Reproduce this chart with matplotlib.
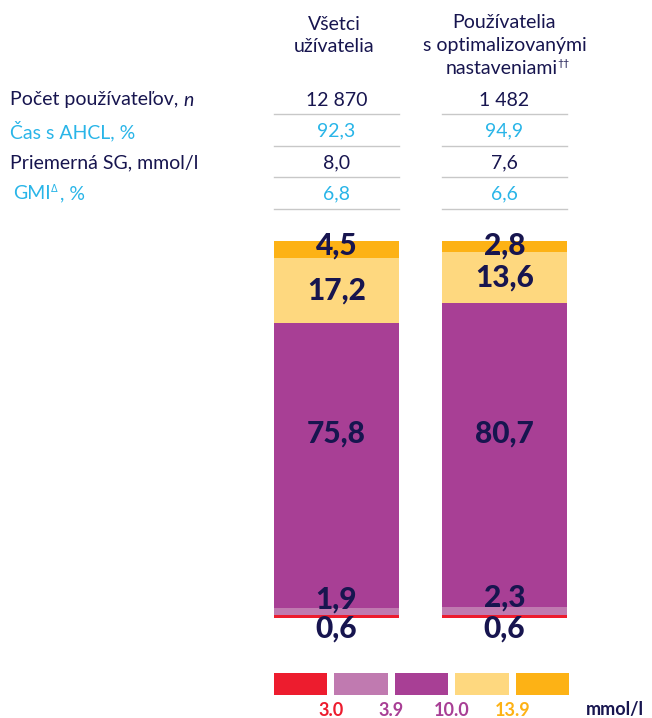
import numpy as np
import matplotlib.pyplot as plt

plt.rcParams['font.family'] = ['Lato', 'DejaVu Sans']

# data
group_all = ['Všetci', 'užívatelia']
group_opt = ['Používatelia', 's optimalizovanými', 'nastaveniami']
row_labels = ['Počet používateľov, ', 'Čas s AHCL, %', 'Priemerná SG, mmol/l', 'GMI']
row_values = [['12 870', '1 482'], ['92,3', '94,9'], ['8,0', '7,6'], ['6,8', '6,6']]
# segments bottom -> top: <3.0, 3.0-3.9, 3.9-10.0, 10.0-13.9, >13.9
seg_all = [0.6, 1.9, 75.8, 17.2, 4.5]
seg_opt = [0.6, 2.3, 80.7, 13.6, 2.8]
seg_labels = [['0,6', '1,9', '75,8', '17,2', '4,5'], ['0,6', '2,3', '80,7', '13,6', '2,8']]
legend_ticks = ['3.0', '3.9', '10.0', '13.9']

colors = ['#ed1c2e', '#c07ab0', '#a83f95', '#fed87f', '#fdb215']
navy = '#17154f'
cyan = '#29b5e8'
row_colors = [navy, cyan, navy, cyan]
tick_colors = ['#ed1c2e', '#a83f95', '#a83f95', '#fdb215']

W, H = 652, 718
fig = plt.figure(figsize=(W / 100, H / 100), dpi=100)
renderer = fig.canvas.get_renderer()

def fx(x):
    return x / W

def fy(y):
    return 1 - y / H

# bars axes: pixel 274..567 wide, 241..617.7 tall
ax = fig.add_axes([fx(274), fy(617.7), fx(567 - 274), (617.7 - 241) / H])
ax.set_xlim(-0.372, 1.372)
ax.set_ylim(0, 100)
ax.axis('off')

data = np.array([seg_all, seg_opt])
bottoms = np.zeros(2)
for i in range(5):
    ax.bar([0, 1], data[:, i], bottom=bottoms, width=0.744, color=colors[i], linewidth=0)
    bottoms += data[:, i]

for j in range(2):
    d = data[j]
    cum = np.cumsum(d)
    ys = [-2.8, cum[1] + 2.4, 49, cum[3] - d[3] / 2, 98.8]
    for i in range(5):
        ax.text(j, ys[i], seg_labels[j][i], ha='center', va='center', fontsize=21.5,
                fontweight='black', color=navy, clip_on=False)

# headers
cols_x = [336.5, 504.5]
fs = 14
for k, s in enumerate(group_all):
    fig.text(fx(334), fy(24 + 23 * k), s, ha='center', va='center', fontsize=fs, color=navy)
for k, s in enumerate(group_opt):
    x = 504.5 if k < 2 else 502
    t = fig.text(fx(x), fy(23 + 23 * k), s, ha='center', va='center', fontsize=fs, color=navy)
bb = t.get_window_extent(renderer)
fig.text(bb.x1 / W - 0.001, fy(63), '††', ha='left', va='center', fontsize=7.5, color=navy)

# table
row_y = [100, 131, 163, 194]
line_y = [114, 145.5, 177, 209]
for r in range(4):
    x0 = 13 if r == 3 else 10
    t = fig.text(fx(x0), fy(row_y[r]), row_labels[r], ha='left', va='center',
                 fontsize=fs, color=row_colors[r])
    for c in range(2):
        fig.text(fx(cols_x[c]), fy(row_y[r]), row_values[r][c], ha='center', va='center',
                 fontsize=fs, color=row_colors[r])
    bb = t.get_window_extent(renderer)
    if r == 0:
        fig.text(bb.x1 / W, fy(row_y[r]), 'n', ha='left', va='center', fontsize=fs,
                 style='italic', color=navy)
    if r == 3:
        fig.text(bb.x1 / W + 0.001, fy(189), 'Δ', ha='left', va='center', fontsize=7,
                 color=cyan, family=['DejaVu Sans'])
        fig.text(bb.x1 / W + 0.014, fy(row_y[r]), ', %', ha='left', va='center',
                 fontsize=fs, color=cyan)
    for a, b in [(274, 399), (442, 567)]:
        fig.add_artist(plt.Line2D([fx(a), fx(b)], [fy(line_y[r])] * 2,
                                  color='#c8c8c8', linewidth=1))

# legend strip
lax = fig.add_axes([fx(270), fy(695), fx(573 - 270), 22 / H])
lax.set_xlim(-0.5, 4.5)
lax.set_ylim(0, 1)
lax.axis('off')
lax.bar(range(5), [1] * 5, width=0.88, color=colors, linewidth=0)
for k, lab in enumerate(legend_ticks):
    lax.text(k + 0.5, -0.72, lab, ha='center', va='center', fontsize=13,
             fontweight='bold', color=tick_colors[k], clip_on=False)
fig.text(fx(615), fy(710), 'mmol/l', ha='center', va='center', fontsize=13,
         fontweight='bold', color=navy)

fig.savefig('out.png', dpi=100)
